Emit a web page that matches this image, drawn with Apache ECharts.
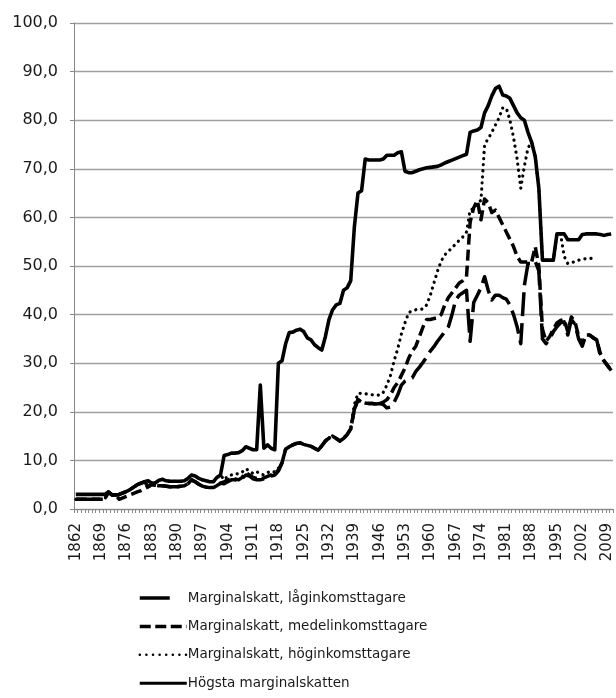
<!DOCTYPE html>
<html>
<head>
<meta charset="utf-8">
<script src="https://cdn.jsdelivr.net/npm/echarts@6/dist/echarts.min.js"></script>
<style>
html,body{margin:0;padding:0;background:#fff;}
#chart{width:616px;height:698px;}
</style>
</head>
<body>
<div id="chart"></div>
<script>
// Years 1862..2010
var years = [];
for (var y = 1862; y <= 2010; y++) years.push(String(y));

var seriesNames = [
  'Marginalskatt, låginkomsttagare',
  'Marginalskatt, medelinkomsttagare',
  'Marginalskatt, höginkomsttagare',
  'Högsta marginalskatten'
];

var yTicks = [0,10,20,30,40,50,60,70,80,90,100];

var lowIncome = [
  2.0,2.0,2.0,2.0,2.0,2.0,2.0,2.0,
  2.0,3.5,2.9,2.9,3.0,3.3,3.6,4.0,4.5,5.0,
  5.3,5.6,4.6,5.0,4.9,4.8,4.8,4.7,4.6,4.6,
  4.6,4.7,4.8,5.2,6.0,5.6,5.1,4.7,4.5,4.4,
  4.4,4.8,5.3,5.2,5.6,6.0,6.0,5.8,6.3,7.0,
  6.8,6.2,6.0,6.0,6.2,6.4,6.8,7.0,7.8,9.5,
  12.3,12.8,13.2,13.5,13.6,13.3,13.1,12.9,12.5,12.1,
  13.0,14.0,14.6,15.0,14.5,14.0,14.5,15.3,16.5,20.5,
  22.5,22.0,21.8,21.7,21.7,21.6,21.7,21.5,20.8,21.0,
  22.0,23.5,25.5,26.3,26.7,27.0,28.3,29.2,30.2,31.3,
  32.5,33.4,34.5,35.5,36.5,37.5,40.0,43.0,44.0,44.5,
  45.0,34.5,42.5,44.0,45.5,47.8,45.0,43.0,44.0,44.0,
  43.5,43.2,42.0,40.0,37.5,34.0,46.0,50.5,50.5,51.0,
  49.0,35.0,34.0,35.0,36.5,37.5,38.3,38.5,35.8,39.0,
  38.0,35.0,33.5,35.8,35.8,35.2,34.8,31.5,30.5,29.5,
  28.5
];

var mediumIncome = [
  2.0,2.0,2.0,2.0,2.0,2.0,2.0,2.0,
  2.0,3.5,2.9,2.9,2.0,2.3,2.6,2.9,3.2,3.5,
  3.8,4.2,4.6,5.0,4.9,4.8,4.8,4.7,4.6,4.6,
  4.6,4.7,4.8,5.2,6.0,5.6,5.1,4.7,4.5,4.4,
  4.4,4.8,5.3,5.6,6.0,6.2,6.2,6.0,6.5,7.5,
  7.0,6.5,6.3,6.3,6.4,6.7,7.0,7.3,8.0,9.5,
  12.3,12.8,13.2,13.5,13.6,13.3,13.1,12.9,12.5,12.1,
  13.0,14.0,14.6,15.0,14.5,14.0,14.5,15.3,16.5,20.5,
  22.5,22.0,21.8,21.7,21.7,21.6,21.7,22.0,22.5,23.5,
  25.0,26.0,27.5,29.0,31.0,32.5,33.5,35.5,37.5,39.0,
  39.0,39.2,39.3,40.0,42.0,43.5,44.5,45.5,46.5,47.0,
  47.8,59.0,62.0,63.5,59.5,63.8,63.0,61.0,61.5,60.0,
  58.5,57.0,55.5,54.0,52.0,50.8,50.8,50.8,50.8,54.0,
  50.0,37.0,34.5,35.5,37.0,38.3,38.8,39.0,36.5,39.5,
  38.5,35.5,34.0,35.8,35.8,35.3,34.8,32.0,30.5,29.5,
  28.5
];

var highIncome = [
  2.0,2.0,2.0,2.0,2.0,2.0,2.0,2.0,
  2.0,3.5,2.9,2.9,3.0,3.3,3.6,4.0,4.5,5.0,
  5.3,5.6,5.8,5.3,5.4,5.9,6.1,5.8,5.7,5.7,
  5.7,5.7,5.8,6.3,7.0,6.8,6.3,6.0,5.8,5.6,
  5.6,6.5,7.0,6.0,6.8,7.0,7.3,7.2,7.6,8.3,
  7.8,7.3,7.7,7.2,7.0,7.5,7.8,7.6,8.4,9.5,
  12.3,12.8,13.2,13.5,13.6,13.3,13.1,12.9,12.5,12.1,
  13.0,14.0,14.6,15.0,14.5,14.0,14.5,15.3,16.5,21.5,
  23.8,23.8,23.7,23.6,23.5,23.5,23.4,24.0,25.5,27.5,
  30.5,33.0,36.0,38.3,40.4,40.8,41.0,41.0,41.2,42.0,
  44.0,46.5,49.0,51.0,52.3,53.0,53.8,54.5,55.3,56.0,
  57.0,61.5,61.8,63.0,63.5,75.0,76.2,77.5,79.0,80.5,
  82.5,82.5,80.0,76.5,72.0,66.0,70.5,74.3,75.5,72.5,
  66.0,51.2,51.2,51.2,51.2,56.6,56.6,52.0,50.5,50.6,
  51.0,51.2,51.4,51.5,51.6,51.5,51.4,null,null,null,
  null
];

var topRate = [
  3.0,3.0,3.0,3.0,3.0,3.0,3.0,3.0,
  3.0,3.5,2.9,2.9,3.0,3.3,3.6,4.0,4.5,5.0,
  5.3,5.6,5.8,5.3,5.4,5.9,6.1,5.8,5.7,5.7,
  5.7,5.7,5.8,6.3,7.0,6.8,6.3,6.0,5.8,5.6,
  5.6,6.5,7.0,11.0,11.2,11.5,11.5,11.6,12.0,12.8,
  12.5,12.2,12.2,25.5,12.5,13.2,12.5,12.2,30.0,30.5,
  34.0,36.3,36.4,36.8,37.0,36.5,35.2,34.8,33.8,33.2,
  32.7,35.5,39.0,41.0,42.0,42.3,45.0,45.5,47.0,58.0,
  65.0,65.5,72.0,71.8,71.8,71.8,71.8,72.0,72.8,72.8,
  72.8,73.3,73.5,69.5,69.2,69.2,69.5,69.8,70.0,70.2,
  70.3,70.4,70.5,70.8,71.2,71.5,71.8,72.1,72.4,72.7,
  73.0,77.5,77.8,78.0,78.5,81.5,83.0,85.0,86.5,87.0,
  85.2,85.0,84.5,83.0,81.5,80.5,80.0,77.5,75.5,72.5,
  66.0,51.2,51.2,51.2,51.2,56.6,56.6,56.6,55.4,55.4,
  55.4,55.4,56.5,56.6,56.6,56.6,56.6,56.5,56.3,56.5,
  56.6
];

var FONT = 'DejaVu Sans';
var chart = echarts.init(document.getElementById('chart'), null, {renderer: 'canvas'});

function lineSeries(name, data, width, type, cap) {
  return {
    name: name,
    type: 'line',
    data: data,
    symbol: 'none',
    showSymbol: false,
    connectNulls: false,
    animation: false,
    lineStyle: {color: '#000', width: width, type: type, cap: cap || 'butt', join: 'round'},
    itemStyle: {color: '#000'},
    emphasis: {disabled: true}
  };
}

var hiddenSym = {opacity: 0, color: 'rgba(0,0,0,0)', borderWidth: 0};

chart.setOption({
  animation: false,
  backgroundColor: '#fff',
  grid: {left: 74, right: 3, top: 23, bottom: 189, containLabel: false},
  xAxis: {
    type: 'category',
    data: years,
    boundaryGap: true,
    axisLine: {show: true, lineStyle: {color: '#888', width: 1}},
    axisTick: {show: true, interval: 0, length: 4, lineStyle: {color: '#888'}},
    axisLabel: {
      interval: 6, rotate: 90, margin: 14,
      fontFamily: FONT, fontSize: 15, color: '#1a1a1a'
    },
    splitLine: {show: false}
  },
  yAxis: {
    type: 'value',
    min: 0, max: 100, interval: 10,
    axisLine: {show: true, lineStyle: {color: '#888', width: 1}},
    axisTick: {show: true, length: 4, lineStyle: {color: '#888'}},
    axisLabel: {
      margin: 16, fontFamily: FONT, fontSize: 16, color: '#1a1a1a',
      formatter: function (v) { return v.toFixed(1).replace('.', ','); }
    },
    splitLine: {show: true, lineStyle: {color: '#a0a0a0', width: 1.3}}
  },
  legend: {
    orient: 'vertical',
    left: 133, top: 586,
    itemWidth: 47, itemHeight: 14, itemGap: 14.4,
    textStyle: {fontFamily: FONT, fontSize: 13.5, color: '#1a1a1a', lineHeight: 14, padding: [0,0,0,-4]},
    selectedMode: false,
    data: [
      {name: seriesNames[0], itemStyle: hiddenSym, lineStyle: {type: [30, 40], width: 3.5}},
      {name: seriesNames[1], itemStyle: hiddenSym, lineStyle: {type: [11, 4.5], width: 3.5}},
      {name: seriesNames[2], itemStyle: hiddenSym, lineStyle: {type: [0.1, 6.5], cap: 'round', width: 2.5}},
      {name: seriesNames[3], itemStyle: hiddenSym, lineStyle: {width: 3}}
    ]
  },
  series: [
    lineSeries(seriesNames[0], lowIncome, 3.5, [24, 7], 'butt'),
    lineSeries(seriesNames[1], mediumIncome, 3.5, [11, 5], 'butt'),
    lineSeries(seriesNames[2], highIncome, 3.2, [0.1, 6], 'round'),
    lineSeries(seriesNames[3], topRate, 3.6, 'solid', 'butt')
  ]
});
</script>
</body>
</html>
